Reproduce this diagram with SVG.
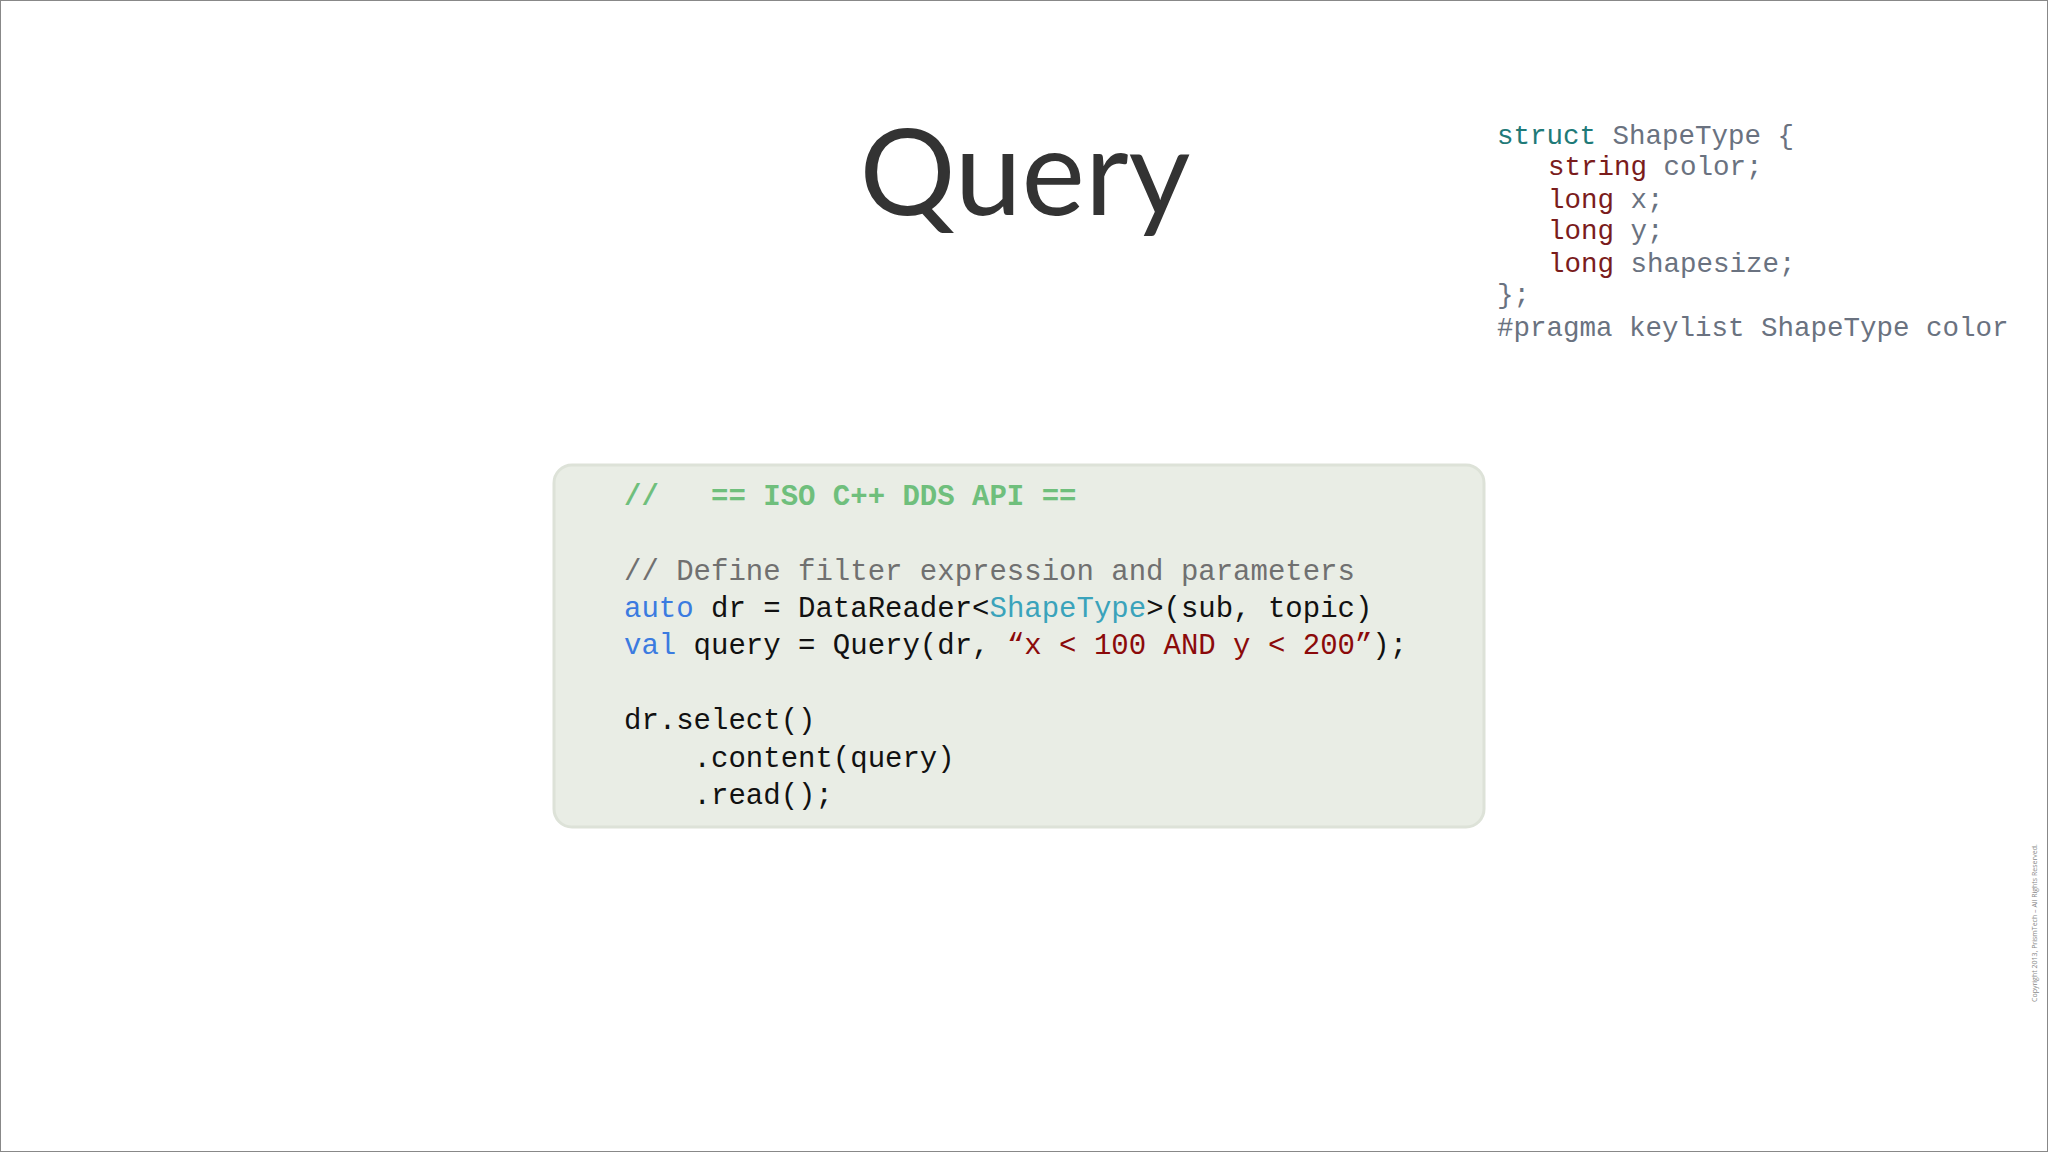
<svg xmlns="http://www.w3.org/2000/svg" width="2048" height="1152" viewBox="0 0 2048 1152">
<style>
.m{font-family:"Liberation Mono","DejaVu Sans Mono",monospace;font-size:29px;fill:#111;white-space:pre}
.s{font-family:"Liberation Mono","DejaVu Sans Mono",monospace;font-size:27.5px;fill:#6a7280;white-space:pre}
.kw{fill:#1f7a78}.ty{fill:#7a1c1c}
.gc{fill:#6fbf7c;font-weight:bold}.cc{fill:#707070}.bl{fill:#3b7be0}.tt{fill:#3aa3bb}.st{fill:#8b0a0a}
</style>
<rect x="0.5" y="0.5" width="2047" height="1151" fill="#fff" stroke="#888"/>
<g id="title"><text x="1025" y="215" text-anchor="middle" font-family="Lato, 'Open Sans', sans-serif" font-size="120" fill="#333">Query</text></g>
<g id="struct">
<text class="s" x="1497" y="144"><tspan class="kw">struct</tspan> ShapeType {</text>
<text class="s" x="1548" y="175"><tspan class="ty">string</tspan> color;</text>
<text class="s" x="1548" y="208"><tspan class="ty">long</tspan> x;</text>
<text class="s" x="1548" y="239"><tspan class="ty">long</tspan> y;</text>
<text class="s" x="1548" y="272"><tspan class="ty">long</tspan> shapesize;</text>
<text class="s" x="1497" y="303">};</text>
<text class="s" x="1497" y="336">#pragma keylist ShapeType color</text>
</g>
<g id="code">
<rect x="554" y="465" width="930" height="362" rx="18" fill="#e9ede5" stroke="#dde2d8" stroke-width="3"/>
<text class="m gc" x="624" y="505">//   == ISO C++ DDS API ==</text>
<text class="m cc" x="624" y="580">// Define filter expression and parameters</text>
<text class="m" x="624" y="617"><tspan class="bl">auto</tspan> dr = DataReader&lt;<tspan class="tt">ShapeType</tspan>&gt;(sub, topic)</text>
<text class="m" x="624" y="654"><tspan class="bl">val</tspan> query = Query(dr, <tspan class="st">“x &lt; 100 AND y &lt; 200”</tspan>);</text>
<text class="m" x="624" y="729">dr.select()</text>
<text class="m" x="624" y="767">    .content(query)</text>
<text class="m" x="624" y="804">    .read();</text>
</g>
<text transform="translate(2037,923) rotate(-90)" text-anchor="middle" font-family="'Open Sans', sans-serif" font-size="7" fill="#888">Copyright 2013, PrismTech – All Rights Reserved.</text>
</svg>
